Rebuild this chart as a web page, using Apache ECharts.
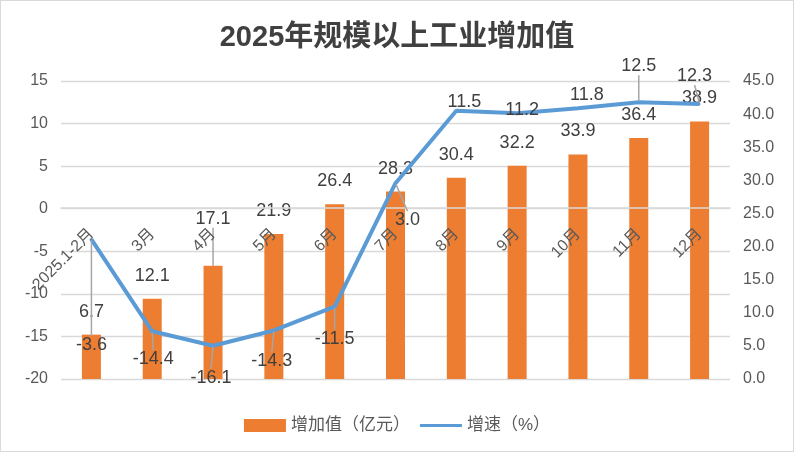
<!DOCTYPE html>
<html>
<head>
<meta charset="utf-8">
<script src="https://cdn.jsdelivr.net/npm/echarts@6/dist/echarts.min.js"></script>
<style>
html,body{margin:0;padding:0;background:#fff;}
#chart{width:794px;height:452px;box-sizing:border-box;border:1px solid #d9d9d9;}
</style>
</head>
<body>
<div id="chart"></div>
<script>
// ---- data ----
const categories = ['2025.1-2月', '3月', '4月', '5月', '6月', '7月', '8月', '9月', '10月', '11月', '12月'];
const valueAdded = [6.7, 12.1, 17.1, 21.9, 26.4, 28.3, 30.4, 32.2, 33.9, 36.4, 38.9];   // 增加值（亿元）
const growthRate = [-3.6, -14.4, -16.1, -14.3, -11.5, 3.0, 11.5, 11.2, 11.8, 12.5, 12.3]; // 增速（%）
const seriesNames = ['增加值（亿元）', '增速（%）'];
const titleText = '2025年规模以上工业增加值';

// ---- label placement (style, not data) ----
const lineLabelOffsets = [[0,106],[1,28],[-2,32],[-2,31],[0,32],[12,37],[8,-9],[5,-3],[9,-13],[0,-36],[-5,-28]];
const lineLeader = [true,true,true,true,true,true,false,false,false,true,true];
const barLabelOffsets = [[0,0],[0,0],[0,-24],[0,0],[0,0],[0,0],[0,0],[0,0],[0,0],[0,0],[0,0]];
const barLeader = [false,false,true,false,false,false,false,false,false,false,false];

const FONT = "'Liberation Sans', 'Noto Sans CJK SC', sans-serif";
const GRID = { left: 60, right: 63, top: 80, bottom: 72 };
const LEFT_MIN = -20, LEFT_MAX = 15;
const chart = echarts.init(document.getElementById('chart'));

const barData = valueAdded.map((v, i) => ({ value: v, labelLine: { show: barLeader[i] } }));
const lineData = growthRate.map((v, i) => ({ value: v, labelLine: { show: lineLeader[i] } }));

const gridH = 452 - GRID.top - GRID.bottom;
const zeroOffset = -gridH * (0 - LEFT_MIN) / (LEFT_MAX - LEFT_MIN);

chart.setOption({
  animation: false,
  title: {
    text: titleText, left: 'center', top: 17,
    textStyle: { fontFamily: FONT, fontSize: 29, fontWeight: 'bold', color: '#404040' }
  },
  legend: {
    top: 411, left: 'center', itemGap: 10, itemWidth: 42, itemHeight: 13,
    textStyle: { fontFamily: FONT, fontSize: 17, color: '#595959' },
    data: [
      { name: seriesNames[0], icon: 'rect' },
      { name: seriesNames[1], icon: 'path://M0,0 L42,0 L42,3 L0,3 Z' }
    ]
  },
  grid: Object.assign({ outerBoundsMode: 'none', containLabel: false }, GRID),
  xAxis: {
    type: 'category', data: categories, position: 'bottom', offset: zeroOffset, z: 5,
    axisLine: { onZero: false, lineStyle: { color: '#d9d9d9', width: 1.5 } },
    axisTick: { show: false },
    axisLabel: { rotate: 45, margin: 24, fontFamily: FONT, fontSize: 16, color: '#595959', interval: 0 }
  },
  yAxis: [
    {
      type: 'value', min: LEFT_MIN, max: LEFT_MAX, interval: 5,
      axisLine: { show: false }, axisTick: { show: false },
      splitLine: { lineStyle: { color: '#d9d9d9', width: 1.3 } },
      axisLabel: { margin: 13, fontFamily: FONT, fontSize: 16, color: '#595959' }
    },
    {
      type: 'value', min: 0, max: 45, interval: 5,
      axisLine: { show: false }, axisTick: { show: false },
      splitLine: { show: false },
      axisLabel: { margin: 13, fontFamily: FONT, fontSize: 16, color: '#595959',
        formatter: v => v.toFixed(1) }
    }
  ],
  series: [
    {
      name: seriesNames[0], type: 'bar', yAxisIndex: 1, data: barData,
      barWidth: 19, z: 2,
      itemStyle: { color: '#ED7D31' },
      label: { show: true, position: 'top', distance: 14, fontFamily: FONT, fontSize: 18, color: '#404040',
        formatter: p => Number(p.value).toFixed(1) },
      labelLine: { show: true, lineStyle: { color: '#a6a6a6', width: 1.5 } },
      labelLayout: p => ({ dx: barLabelOffsets[p.dataIndex][0], dy: barLabelOffsets[p.dataIndex][1] })
    },
    {
      name: seriesNames[1], type: 'line', yAxisIndex: 0, data: lineData, z: 6,
      symbol: 'circle', symbolSize: 2, showSymbol: true,
      lineStyle: { color: '#5B9BD5', width: 4 },
      itemStyle: { color: '#5B9BD5' },
      label: { show: true, position: 'inside', fontFamily: FONT, fontSize: 18, color: '#404040',
        formatter: p => Number(p.value).toFixed(1) },
      labelLine: { show: true, lineStyle: { color: '#a6a6a6', width: 1.5 } },
      labelLayout: p => ({ dx: lineLabelOffsets[p.dataIndex][0], dy: lineLabelOffsets[p.dataIndex][1] })
    }
  ]
});
</script>
</body>
</html>
